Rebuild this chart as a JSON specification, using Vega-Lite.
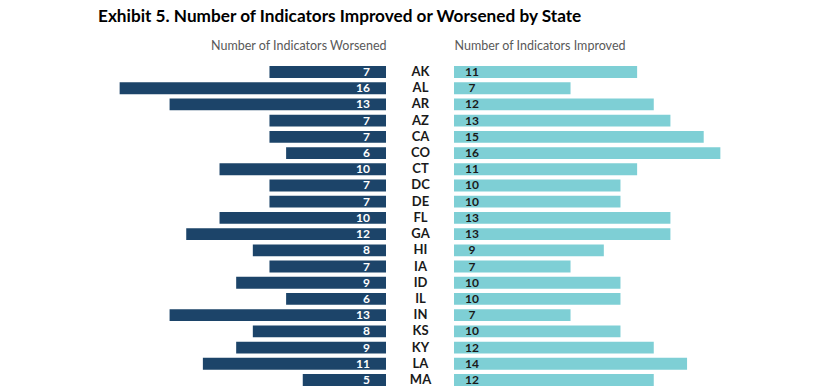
{
  "$schema": "https://vega.github.io/schema/vega-lite/v6.json",
  "padding": {"left": 98, "top": 7, "right": 0, "bottom": 0},
  "background": "white",
  "title": {"text": "Exhibit 5. Number of Indicators Improved or Worsened by State", "anchor": "start", "font": "Lato", "fontSize": 17.2, "fontWeight": "bold", "color": "#000000", "offset": 14},
  "data": {"values": [
    {"state": "AK", "worsened": 7, "improved": 11},
    {"state": "AL", "worsened": 16, "improved": 7},
    {"state": "AR", "worsened": 13, "improved": 12},
    {"state": "AZ", "worsened": 7, "improved": 13},
    {"state": "CA", "worsened": 7, "improved": 15},
    {"state": "CO", "worsened": 6, "improved": 16},
    {"state": "CT", "worsened": 10, "improved": 11},
    {"state": "DC", "worsened": 7, "improved": 10},
    {"state": "DE", "worsened": 7, "improved": 10},
    {"state": "FL", "worsened": 10, "improved": 13},
    {"state": "GA", "worsened": 12, "improved": 13},
    {"state": "HI", "worsened": 8, "improved": 9},
    {"state": "IA", "worsened": 7, "improved": 7},
    {"state": "ID", "worsened": 9, "improved": 10},
    {"state": "IL", "worsened": 6, "improved": 10},
    {"state": "IN", "worsened": 13, "improved": 7},
    {"state": "KS", "worsened": 8, "improved": 10},
    {"state": "KY", "worsened": 9, "improved": 12},
    {"state": "LA", "worsened": 11, "improved": 14},
    {"state": "MA", "worsened": 5, "improved": 12}
  ]},
  "bounds": "flush",
  "spacing": 68,
  "hconcat": [
    {
      "width": 288,
      "height": 324,
      "encoding": {
        "y": {"field": "state", "type": "nominal", "sort": null, "axis": null, "scale": {"paddingInner": 0.27, "paddingOuter": 0.13}}
      },
      "layer": [
        {
          "mark": {"type": "bar", "color": "#1c4469"},
          "encoding": {
            "x": {"field": "worsened", "type": "quantitative", "scale": {"domain": [0, 17.3], "reverse": true, "nice": false},
              "axis": {"orient": "top", "title": "Number of Indicators Worsened", "labels": false, "ticks": false, "domain": false, "grid": false, "titleAnchor": "start", "titleAlign": "right", "titleFont": "Lato", "titleFontSize": 12.5, "titleFontWeight": "normal", "titleColor": "#595959", "titlePadding": 12}}
          }
        },
        {
          "mark": {"type": "text", "align": "right", "baseline": "middle", "dx": -16, "color": "white", "font": "Lato", "fontSize": 12, "fontWeight": "bold"},
          "encoding": {
            "x": {"datum": 0, "type": "quantitative"},
            "text": {"field": "worsened", "type": "quantitative"}
          }
        }
      ]
    },
    {
      "width": 288,
      "height": 324,
      "encoding": {
        "y": {"field": "state", "type": "nominal", "sort": null, "scale": {"paddingInner": 0.27, "paddingOuter": 0.13},
          "axis": {"title": null, "ticks": false, "domain": false, "labelAlign": "center", "labelPadding": 34, "labelFont": "Lato", "labelFontSize": 13, "labelFontWeight": "bold", "labelColor": "#1a1a1a"}}
      },
      "layer": [
        {
          "mark": {"type": "bar", "color": "#7ecfd5"},
          "encoding": {
            "x": {"field": "improved", "type": "quantitative", "scale": {"domain": [0, 17.3], "nice": false},
              "axis": {"orient": "top", "title": "Number of Indicators Improved", "labels": false, "ticks": false, "domain": false, "grid": false, "titleAnchor": "start", "titleFont": "Lato", "titleFontSize": 12.5, "titleFontWeight": "normal", "titleColor": "#595959", "titlePadding": 12}}
          }
        },
        {
          "mark": {"type": "text", "align": "center", "baseline": "middle", "dx": 18, "color": "#1a1a1a", "font": "Lato", "fontSize": 12, "fontWeight": "bold"},
          "encoding": {
            "x": {"datum": 0, "type": "quantitative"},
            "text": {"field": "improved", "type": "quantitative"}
          }
        }
      ]
    }
  ],
  "config": {"view": {"stroke": null}}
}
